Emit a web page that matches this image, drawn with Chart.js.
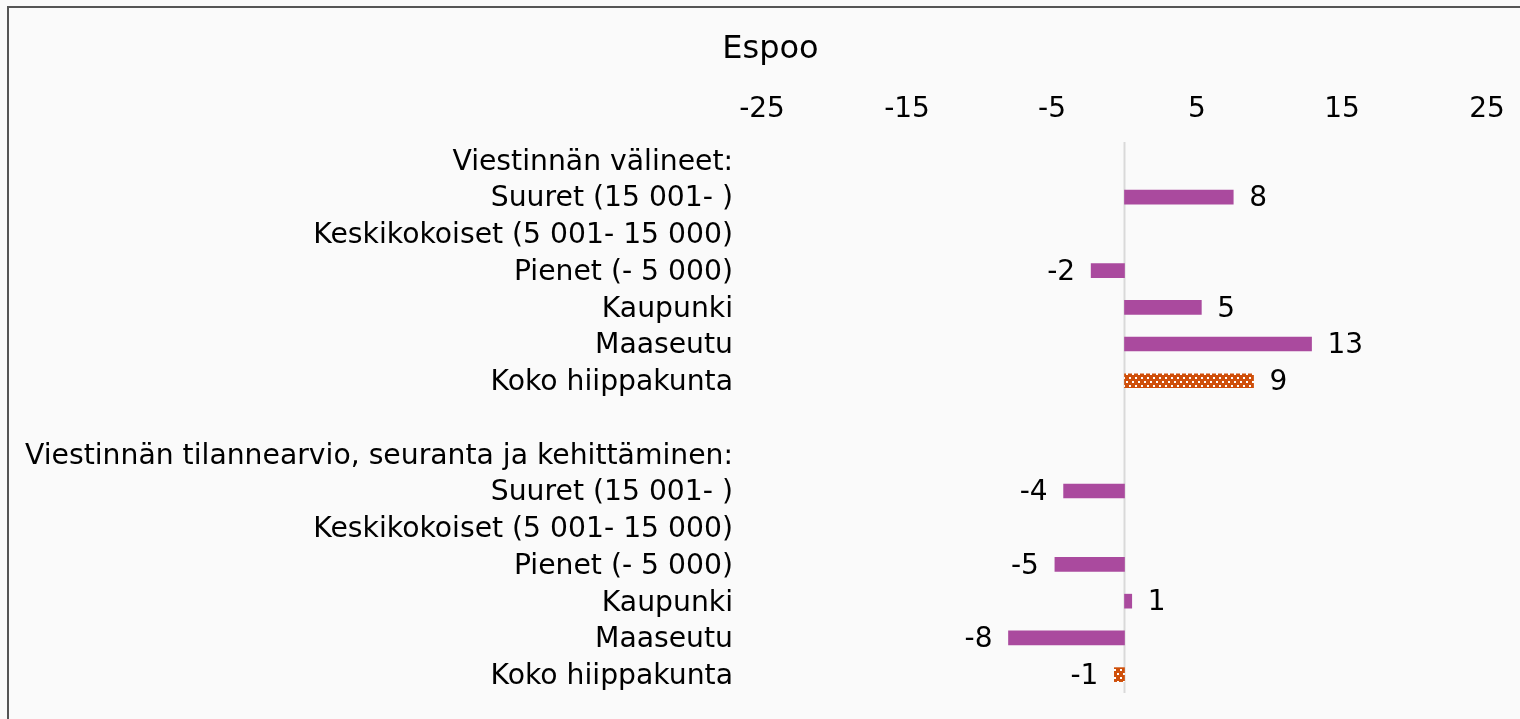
<!DOCTYPE html>
<html><head><meta charset="utf-8">
<script src="https://cdn.jsdelivr.net/npm/chart.js@4/dist/chart.umd.min.js"></script>
<style>
html,body{margin:0;padding:0;background:#fafafa;overflow:hidden}
#wrap{position:relative;width:1520px;height:719px}
#frame{position:absolute;left:7px;top:6px;width:1600px;height:800px;border-left:2px solid #555;border-top:2px solid #555;pointer-events:none}
canvas{position:absolute;left:0;top:0}
</style></head><body>
<div id="wrap"><canvas id="c" width="1520" height="719"></canvas><div id="frame"></div></div>
<script>
const chartTitle = "Espoo";
const categories = [
  "Viestinnän välineet:",
  "Suuret (15 001- )",
  "Keskikokoiset (5 001- 15 000)",
  "Pienet (- 5 000)",
  "Kaupunki",
  "Maaseutu",
  "Koko hiippakunta",
  "",
  "Viestinnän tilannearvio, seuranta ja kehittäminen:",
  "Suuret (15 001- )",
  "Keskikokoiset (5 001- 15 000)",
  "Pienet (- 5 000)",
  "Kaupunki",
  "Maaseutu",
  "Koko hiippakunta"
];
const values = [null, 7.5, null, -2.3, 5.3, 12.9, 8.9, null, null, -4.2, null, -4.8, 0.5, -8.0, -0.7];
const highlightCategory = "Koko hiippakunta";
const axisMin = -25, axisMax = 25, axisStep = 10;

const FONT = '"DejaVu Sans", Verdana, sans-serif';
const PURPLE = '#AA4A9E';
const ORANGE = '#CF4F0A';

function makePattern(){
  const t = document.createElement('canvas'); t.width = 6; t.height = 8;
  const g = t.getContext('2d');
  g.fillStyle = ORANGE; g.fillRect(0,0,6,8);
  g.fillStyle = '#ffffff'; g.fillRect(1,1,2,2); g.fillRect(4,5,2,2);
  return g.createPattern(t, 'repeat');
}
const pattern = makePattern();

const zeroLine = {
  id: 'zeroLine',
  beforeDatasetsDraw(chart){
    const {ctx, chartArea, scales} = chart;
    const x = scales.x.getPixelForValue(0);
    ctx.save();
    ctx.strokeStyle = '#d9d9d9'; ctx.lineWidth = 2;
    ctx.beginPath(); ctx.moveTo(x, chartArea.top); ctx.lineTo(x, chartArea.bottom); ctx.stroke();
    ctx.restore();
  }
};

const valueLabels = {
  id: 'valueLabels',
  afterDatasetsDraw(chart){
    const ctx = chart.ctx; const meta = chart.getDatasetMeta(0);
    ctx.save();
    ctx.font = '28px ' + FONT; ctx.fillStyle = '#000'; ctx.textBaseline = 'middle';
    meta.data.forEach((bar, i) => {
      const v = values[i]; if (v === null || v === undefined) return;
      const txt = String(Math.round(v));
      if (v >= 0) { ctx.textAlign = 'left'; ctx.fillText(txt, bar.x + 16, bar.y + 2); }
      else { ctx.textAlign = 'right'; ctx.fillText(txt, bar.x - 16, bar.y + 2); }
    });
    ctx.restore();
  }
};

new Chart(document.getElementById('c'), {
  type: 'bar',
  data: {
    labels: categories,
    datasets: [{
      data: values,
      backgroundColor: (c) => categories[c.dataIndex] === highlightCategory ? pattern : PURPLE,
      borderWidth: 0,
      barThickness: 14
    }]
  },
  options: {
    indexAxis: 'y',
    responsive: false,
    animation: false,
    layout: { padding: { left: 54, right: 33, top: 0, bottom: 26 } },
    plugins: {
      legend: { display: false },
      tooltip: { enabled: false },
      title: {
        display: true, text: chartTitle, color: '#000',
        font: { family: FONT, size: 32, weight: 'normal', lineHeight: 1.2 },
        padding: { top: 30, bottom: 0 }
      }
    },
    scales: {
      x: {
        position: 'top', min: axisMin, max: axisMax,
        ticks: { stepSize: axisStep, color: '#000', font: { family: FONT, size: 28 }, padding: 15, maxRotation: 0 },
        grid: { display: false, drawTicks: false },
        border: { display: false },
        afterFit: (s) => { s.height = 73.6; }
      },
      y: {
        ticks: { autoSkip: false, color: '#000', font: { family: FONT, size: 28.25 }, padding: 29, labelOffset: 2 },
        grid: { display: false, drawTicks: false },
        border: { display: false },
        afterFit: (s) => { s.width = 708; s.paddingTop = 0; s.paddingBottom = 0; s._computeLabelArea = () => undefined; }
      }
    }
  },
  plugins: [zeroLine, valueLabels]
});
</script>
</body></html>
